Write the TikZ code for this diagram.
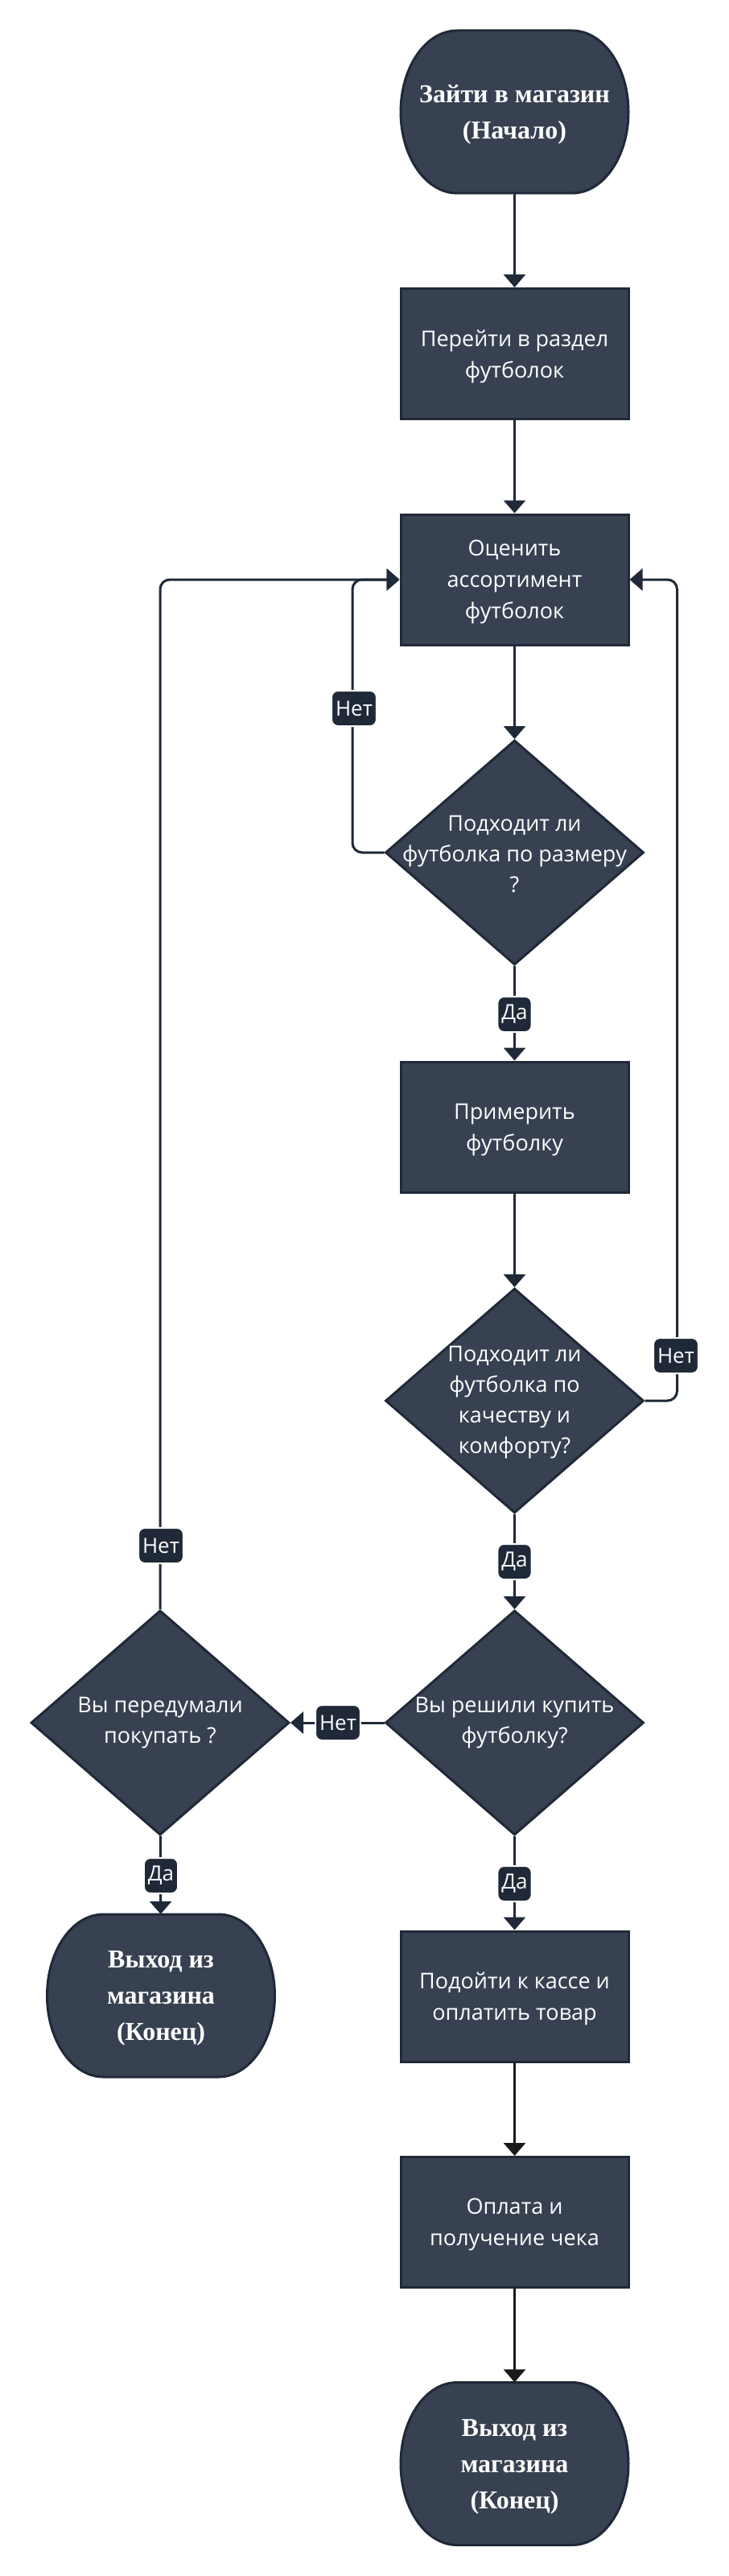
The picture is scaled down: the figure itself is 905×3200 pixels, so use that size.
\documentclass[tikz,border=0pt]{standalone}
\usepackage{fontspec}
\setmainfont{Open Sans}
\newfontfamily\termfont{Liberation Serif}
\usetikzlibrary{arrows.meta,shapes.geometric}
\definecolor{nodefill}{HTML}{374151}
\definecolor{edgecol}{HTML}{1F2937}
\definecolor{lblfill}{HTML}{1F2937}
\definecolor{darkline}{HTML}{1A1A1A}
\tikzset{
 box/.style={rectangle, fill=nodefill, draw=edgecol, line width=3pt, minimum width=283pt, minimum height=162pt, inner sep=0pt, text=white, align=center, text depth=0pt, font=\fontsize{27}{39}\selectfont},
 dia/.style={diamond, fill=nodefill, draw=edgecol, line width=3pt, minimum width=321pt, minimum height=279pt, inner sep=0pt},
 dtext/.style={text=white, align=center, font=\fontsize{27}{38}\selectfont, inner sep=0pt},
 term/.style={rectangle, minimum width=283pt, minimum height=202pt, inner sep=0pt, text=white, align=center, text depth=0pt, font=\termfont\bfseries\fontsize{32}{45}\selectfont},
 termshape/.style={fill=nodefill, draw=edgecol, line width=3pt},
 conn/.style={draw=edgecol, line width=3pt, -{Triangle[width=27pt,length=16pt]}},
 darkconn/.style={draw=darkline, line width=3pt, -{Triangle[width=27pt,length=16pt]}},
 lbl/.style={rectangle, rounded corners=8pt, fill=lblfill, draw=white, line width=2pt, text=white, font=\fontsize{26}{30}\selectfont, minimum height=44pt, inner xsep=5pt, inner ysep=0pt},
}
\newcommand\termshape[2]{%
 \path[termshape] (#1-71.5,#2-101) -- (#1+71.5,#2-101)
   arc[start angle=90,end angle=-90,x radius=70pt,y radius=101pt]
   -- (#1-71.5,#2+101)
   arc[start angle=270,end angle=90,x radius=70pt,y radius=101pt] -- cycle;}
\begin{document}
\begin{tikzpicture}[x=1pt,y=-1pt]
\fill[white] (0,0) rectangle (905,3200);
\useasboundingbox (0,0) rectangle (905,3200);

\termshape{639.5}{139}
\node[term] (start) at (639.5,139) {Зайти в магазин\\(Начало)};
\node[box] (b1) at (639.5,439.5) {Перейти в раздел\\футболок};
\node[box] (b2) at (639.5,720) {Оценить\\ассортимент\\футболок};
\node[dia] (d1) at (639.5,1059) {};
\node[dtext] (t1) at (639.5,1061) {Подходит ли\\футболка по размеру\\?};
\node[box] (b3) at (639.5,1400) {Примерить\\футболку};
\node[dia] (d2) at (639.5,1740) {};
\node[dtext] (t2) at (639.5,1742) {Подходит ли\\футболка по\\качеству и\\комфорту?};
\node[dia] (d3) at (639.5,2140) {};
\node[dtext] (t3) at (d3) {Вы решили купить\\футболку?};
\node[dia] (d4) at (199,2140) {};
\node[dtext] (t4) at (d4) {Вы передумали\\покупать ?};
\node[box] (b4) at (639.5,2480) {Подойти к кассе и\\оплатить товар};
\node[box] (b5) at (639.5,2760.5) {Оплата и\\получение чека};
\termshape{639.5}{3060.5}
\node[term] (end1) at (639.5,3060.5) {Выход из\\магазина\\(Конец)};
\termshape{200}{2479}
\node[term] (end2) at (200,2479) {Выход из\\магазина\\(Конец)};

\draw[conn] (start) -- (b1);
\draw[conn] (b1) -- (b2);
\draw[conn] (b2) -- (d1);
\draw[conn, rounded corners=12pt] (d1.west) -- ++(-39.5,0) |- (b2.west);
\draw[conn] (d1) -- (b3);
\draw[conn] (b3) -- (d2);
\draw[conn, rounded corners=12pt] (d2.east) -- ++(40,0) |- (b2.east);
\draw[conn] (d2) -- (d3);
\draw[conn] (d3) -- (d4);
\draw[conn] (d3) -- (b4);
\draw[conn, rounded corners=12pt] (d4.north) |- (b2.west);
\draw[conn] (d4) -- (end2);
\draw[darkconn] (b4) -- (b5);
\draw[darkconn] (b5) -- (end1);

\node[lbl] (n1) at (440,880) {Нет};
\node[lbl] (y1) at (639.5,1260) {Да};
\node[lbl] (n2) at (840,1684) {Нет};
\node[lbl] (y2) at (639.5,1940) {Да};
\node[lbl] (n3) at (420,2140) {Нет};
\node[lbl] (y3) at (639.5,2340) {Да};
\node[lbl] (n4) at (200,1920) {Нет};
\node[lbl] (y4) at (200,2330) {Да};
\end{tikzpicture}
\end{document}
